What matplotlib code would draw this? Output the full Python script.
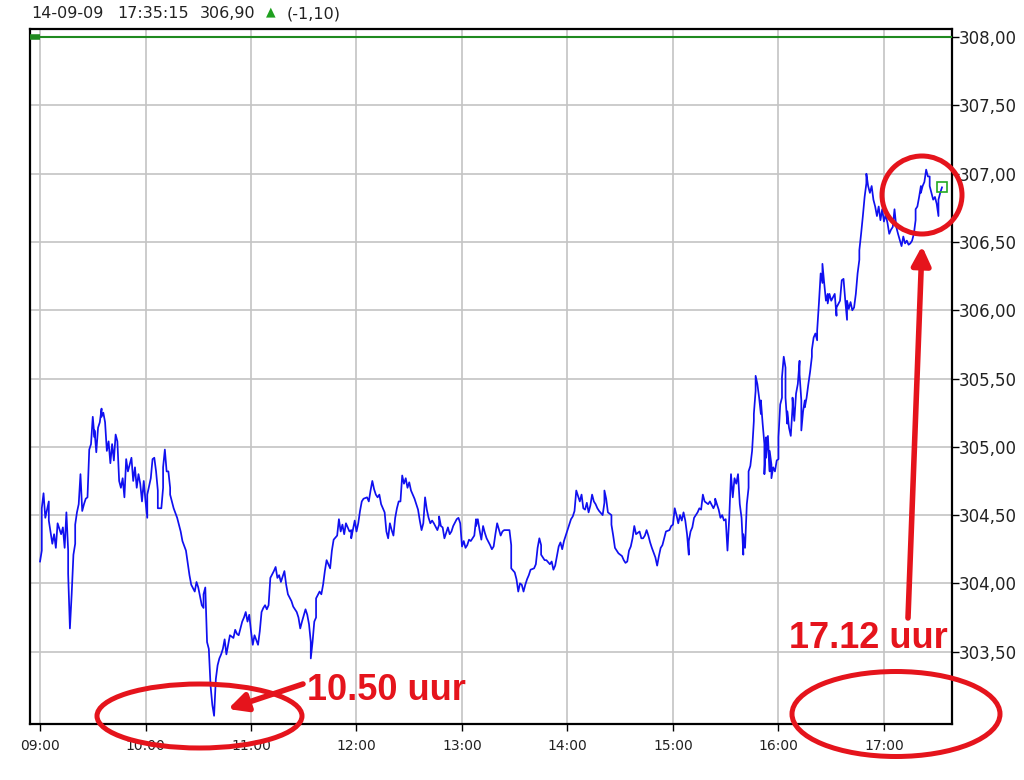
import matplotlib
matplotlib.use("Agg")
import matplotlib.pyplot as plt
from matplotlib.patches import Ellipse
from matplotlib.ticker import FuncFormatter

# minutes after 09:00 and price
minutes = [
    0, 1, 1, 2, 3, 5, 5, 7, 8, 9,
    10, 12, 13, 14, 15, 16, 16, 17, 18, 19,
    20, 20, 21, 22, 23, 24, 25, 26, 27, 28,
    29, 30, 31, 31, 32, 33, 34, 35, 35, 36,
    37, 38, 39, 40, 41, 42, 43, 44, 45, 46,
    47, 48, 49, 50, 52, 53, 54, 55, 56, 57,
    58, 59, 60, 61, 61, 63, 64, 65, 66, 67,
    67, 69, 70, 70, 71, 72, 73, 74, 74,
    76, 78, 80, 81, 83, 85, 86, 88, 89, 90,
    92, 93, 93, 94, 95, 96, 97, 98, 99, 100,
    101, 102, 103, 104, 105, 106, 107, 108, 110, 111,
    112, 113, 115, 116, 117, 118, 119, 120, 121, 122,
    124, 125, 126, 127, 128, 129, 130, 131, 133, 134,
    135, 136, 137, 139, 140, 141, 143, 144, 146, 147,
    148, 149, 151, 152, 153, 154, 154, 155, 156, 157,
    157, 159, 160, 161, 162, 163, 164, 165, 166, 167,
    169, 170, 171, 172, 173, 174, 176, 177, 177, 179,
    180, 181, 182, 183, 184, 186, 187, 188, 189, 190,
    191, 192, 193, 194, 196, 197, 198, 199, 200, 201,
    202, 203, 204, 205, 206, 207, 208, 209, 210, 211,
    212, 213, 215, 216, 217, 218, 219, 220, 221, 222,
    223, 224, 226, 227, 227, 228, 229, 230, 232, 233,
    234, 235, 237, 238, 239, 240, 241, 242, 243, 244,
    245, 247, 248, 248, 249, 250, 251, 252, 253, 254,
    256, 257, 258, 259, 260, 262, 263, 264, 265, 267,
    268, 268, 270, 271, 272, 273, 274, 275, 276, 277,
    278, 279, 281, 282, 283, 284, 285,
    285, 287, 288, 290, 291, 292, 293, 294, 295, 296,
    297, 298, 300, 301, 302, 303, 304, 305, 306, 307,
    308, 309, 310, 311, 312, 313, 314, 315, 316, 317,
    318, 320, 321, 321, 322, 323, 325, 325, 326, 327,
    328, 329, 331, 332, 333, 334, 335, 336, 337, 338,
    339, 341, 342, 343, 344, 345, 346, 347, 348, 350,
    351, 352, 353, 354, 355, 356, 358, 359, 360, 361,
    362, 363, 364, 365, 366, 367, 368, 369, 369, 370,
    371, 372, 374, 375, 376, 377, 378, 379, 380, 381,
    383, 384, 384, 386, 387, 388, 389, 390, 391, 392,
    393, 394, 395, 396,
    397, 398, 399, 400, 400, 401, 402, 403, 403, 404,
    405, 406, 406, 407, 407, 408, 409, 410, 410, 411,
    412, 412, 413, 413, 414, 415, 415, 416, 416, 417,
    418, 419, 420, 420, 421, 422, 422, 423, 424, 424,
    425, 425, 426, 427, 428, 428, 429, 430, 431, 432,
    432, 433, 433, 434, 435, 435, 436, 437, 438, 439,
    439, 440, 441, 442, 442, 443, 444, 445, 445, 446,
    447, 448, 448, 449, 450, 452, 453, 453, 455, 456,
    457, 458, 459, 459, 460, 461, 462, 463, 464, 465,
    466, 466, 467, 468, 469, 470, 470, 471, 472, 473,
    474, 475, 476, 477, 478, 479, 480, 481, 482, 483,
    484, 485, 486, 487, 488, 490, 491, 492, 493, 494,
    495, 496, 497, 498, 498, 499, 500, 501, 501, 502,
    503, 504, 505, 506, 506, 507, 508, 509, 510, 511,
    511, 512, 513,
]

prices = [
    304.16, 304.24, 304.55, 304.66, 304.48, 304.60, 304.46, 304.29, 304.36, 304.26,
    304.44, 304.36, 304.41, 304.26, 304.52, 304.24, 304.07, 303.67, 303.92, 304.21,
    304.29, 304.43, 304.52, 304.58, 304.80, 304.53, 304.58, 304.62, 304.63, 304.98,
    305.02, 305.22, 305.07, 305.12, 304.96, 305.14, 305.18, 305.28, 305.22, 305.25,
    305.18, 304.97, 305.04, 304.88, 305.02, 304.90, 305.09, 305.04, 304.75, 304.70,
    304.77, 304.63, 304.91, 304.82, 304.92, 304.75, 304.85, 304.70, 304.80, 304.73,
    304.60, 304.75, 304.60, 304.48, 304.65, 304.77, 304.91, 304.92, 304.82, 304.68,
    304.55, 304.55, 304.70, 304.85, 304.98, 304.82, 304.82, 304.70, 304.65,
    304.55, 304.48, 304.38, 304.31, 304.24, 304.06, 303.99, 303.94, 304.01, 303.97,
    303.84, 303.82, 303.92, 303.97, 303.57, 303.52, 303.25, 303.11, 303.03, 303.30,
    303.40, 303.45, 303.48, 303.52, 303.59, 303.48, 303.55, 303.62, 303.60, 303.66,
    303.63, 303.62, 303.72, 303.75, 303.79, 303.72, 303.77, 303.65, 303.55, 303.62,
    303.55, 303.65, 303.79, 303.82, 303.84, 303.81, 303.84, 304.04, 304.09, 304.12,
    304.04, 304.06, 304.01, 304.09, 303.99, 303.92, 303.87, 303.83, 303.79, 303.75,
    303.67, 303.72, 303.81, 303.77, 303.70, 303.57, 303.45, 303.57, 303.72, 303.75,
    303.89, 303.94, 303.92, 303.99, 304.09, 304.17, 304.14, 304.11, 304.24, 304.32,
    304.35, 304.47, 304.38, 304.43, 304.36, 304.44, 304.38, 304.39, 304.33, 304.46,
    304.38, 304.44, 304.53, 304.60, 304.62, 304.63, 304.60, 304.68, 304.75, 304.69,
    304.65, 304.63, 304.65, 304.58, 304.52, 304.38, 304.33, 304.44, 304.39, 304.35,
    304.48, 304.55, 304.60, 304.60, 304.79, 304.73, 304.77, 304.70, 304.74, 304.68,
    304.65, 304.62, 304.54, 304.46, 304.39, 304.44, 304.63, 304.54, 304.48, 304.44,
    304.46, 304.44, 304.39, 304.43, 304.49, 304.42, 304.41, 304.33, 304.41, 304.36,
    304.38, 304.42, 304.47, 304.48, 304.44, 304.27, 304.31, 304.26, 304.28, 304.32,
    304.31, 304.35, 304.47, 304.42, 304.47, 304.39, 304.32, 304.42, 304.37, 304.33,
    304.28, 304.25, 304.27, 304.36, 304.44, 304.35, 304.38, 304.39, 304.39, 304.39,
    304.28, 304.11, 304.08, 304.03, 303.94, 304.00, 303.99, 303.94, 303.99, 304.03,
    304.06, 304.10, 304.11, 304.14, 304.26, 304.33, 304.28,
    304.21, 304.17, 304.17, 304.14, 304.16, 304.10, 304.13, 304.20, 304.27, 304.30,
    304.25, 304.31, 304.39, 304.43, 304.47, 304.49, 304.53, 304.68, 304.64, 304.60,
    304.65, 304.55, 304.54, 304.59, 304.52, 304.57, 304.65, 304.60, 304.58, 304.55,
    304.53, 304.50, 304.59, 304.68, 304.62, 304.52, 304.50, 304.43, 304.35, 304.26,
    304.24, 304.22, 304.20, 304.17, 304.15, 304.16, 304.24, 304.27, 304.33, 304.42,
    304.36, 304.38, 304.33, 304.33, 304.35, 304.39, 304.35, 304.30, 304.26, 304.19,
    304.13, 304.20, 304.26, 304.28, 304.33, 304.38, 304.39, 304.42, 304.43, 304.55,
    304.50, 304.44, 304.50, 304.46, 304.52, 304.46, 304.36, 304.21, 304.31, 304.38,
    304.41, 304.48, 304.52, 304.55, 304.54, 304.65, 304.60, 304.59, 304.58, 304.60,
    304.55, 304.58, 304.62, 304.54, 304.48, 304.50, 304.46, 304.47, 304.24, 304.48,
    304.80, 304.63, 304.77, 304.73,
    304.80, 304.58, 304.48, 304.21, 304.36, 304.26, 304.58, 304.70, 304.82, 304.86,
    304.97, 305.19, 305.24, 305.41, 305.52, 305.46, 305.36, 305.24, 305.34, 305.17,
    305.02, 304.80, 305.07, 304.92, 305.08, 304.82, 304.97, 304.87, 304.77, 304.85,
    304.82, 304.90, 304.91, 305.07, 305.31, 305.36, 305.51, 305.66, 305.58, 305.36,
    305.17, 305.26, 305.14, 305.08, 305.29, 305.36, 305.19, 305.39, 305.46, 305.63,
    305.53, 305.34, 305.12, 305.26, 305.34, 305.29, 305.36, 305.46, 305.55, 305.66,
    305.71, 305.80, 305.83, 305.78, 305.85, 306.05, 306.27, 306.20, 306.34, 306.20,
    306.07, 306.12, 306.05, 306.12, 306.07, 306.12, 305.96, 306.02, 306.07, 306.22,
    306.23, 306.07, 305.93, 306.07, 306.01, 306.06, 306.00, 306.02, 306.12, 306.27,
    306.37, 306.44, 306.56, 306.69, 306.83, 306.93, 307.00, 306.91, 306.86, 306.91,
    306.81, 306.76, 306.69, 306.76, 306.66, 306.74, 306.65, 306.70, 306.64, 306.56,
    306.59, 306.61, 306.74, 306.61, 306.56, 306.47, 306.54, 306.49, 306.51, 306.48,
    306.49, 306.51, 306.56, 306.66, 306.74, 306.76, 306.83, 306.91, 306.86, 306.91,
    306.94, 307.03, 306.98, 306.98, 306.91, 306.86, 306.81, 306.83, 306.78, 306.69,
    306.81, 306.86, 306.90,
]

assert len(minutes) == len(prices)

hour_ticks = [9, 10, 11, 12, 13, 14, 15, 16, 17]
price_ticks = [303.5, 304.0, 304.5, 305.0, 305.5, 306.0, 306.5, 307.0, 307.5, 308.0]
reference_level = 308.0
header_parts = ["14-09-09", "17:35:15", "306,90"]
change = "(-1,10)"

RED = "#e5141c"
BLUE = "#1010f0"
GREEN = "#1f8a1f"

hours = [9 + m / 60 for m in minutes]

fig = plt.figure(figsize=(10.24, 7.8), dpi=100)
ax = fig.add_axes([30 / 1024, 56 / 780, 922 / 1024, 695 / 780])

ax.set_xlim(8.905, 17.645)
ax.set_ylim(302.97, 308.06)

ax.grid(True, color="#c4c4c4", linewidth=1.2)
ax.set_axisbelow(True)

ax.axhline(reference_level, color=GREEN, linewidth=1.5, zorder=3)
ax.plot([8.905, 9.0], [reference_level, reference_level], color=GREEN, linewidth=4, zorder=3, solid_capstyle="butt")

ax.plot(hours, prices, color=BLUE, linewidth=1.25, zorder=4)
ax.plot(hours[-1], prices[-1], marker="s", markersize=7, markerfacecolor="none",
        markeredgecolor="#22aa22", markeredgewidth=1.2, zorder=5)

ax.set_xticks(hour_ticks)
ax.set_xticklabels([f"{h:02d}:00" for h in hour_ticks])
ax.set_yticks(price_ticks)
ax.yaxis.set_major_formatter(FuncFormatter(lambda v, _: f"{v:.2f}".replace(".", ",")))
ax.yaxis.tick_right()
ax.tick_params(axis="x", direction="out", length=5, width=1, labelsize=10, pad=6, labelcolor="#222222")
ax.tick_params(axis="y", direction="out", length=5, width=1, labelsize=12, pad=0, labelcolor="#222222")

for side in ["left", "right", "top", "bottom"]:
    ax.spines[side].set_color("black")
    ax.spines[side].set_linewidth(1.6)

# header line
for xpix, part in zip([31, 117, 200], header_parts):
    fig.text(xpix / 1024, 1 - 14 / 780, part, fontsize=11.5, va="center", ha="left", color="#222222")
fig.text(271 / 1024, 1 - 12 / 780, "▲", fontsize=9, va="center", ha="center", color="#1fa01f")
fig.text(287 / 1024, 1 - 14 / 780, change, fontsize=11.5, va="center", ha="left", color="#222222")

# red markings
for cx, cy, w, h in [(199.5, 716, 205, 64), (896, 714, 208, 85), (922, 195, 80, 78)]:
    e = Ellipse((cx / 1024, 1 - cy / 780), w / 1024, h / 780, transform=fig.transFigure,
                fill=False, edgecolor=RED, linewidth=3.6, zorder=10)
    fig.add_artist(e)

fig_h = 780
ax.annotate("", xy=(228, fig_h - 709), xytext=(303, fig_h - 684), xycoords="figure pixels",
            textcoords="figure pixels",
            arrowprops=dict(arrowstyle="-|>", color=RED, lw=4, mutation_scale=28, shrinkA=0, shrinkB=0))
ax.annotate("", xy=(922, fig_h - 246), xytext=(908, fig_h - 618), xycoords="figure pixels",
            textcoords="figure pixels",
            arrowprops=dict(arrowstyle="-|>", color=RED, lw=4, mutation_scale=28, shrinkA=0, shrinkB=0))

fig.text(307 / 1024, 1 - 690 / 780, "10.50 uur", fontsize=26, fontweight="bold", color=RED,
         family="Liberation Sans", va="center", ha="left")
fig.text(789 / 1024, 1 - 639 / 780, "17.12 uur", fontsize=26, fontweight="bold", color=RED,
         family="Liberation Sans", va="center", ha="left")

fig.savefig("out.png", dpi=100, facecolor="white")
